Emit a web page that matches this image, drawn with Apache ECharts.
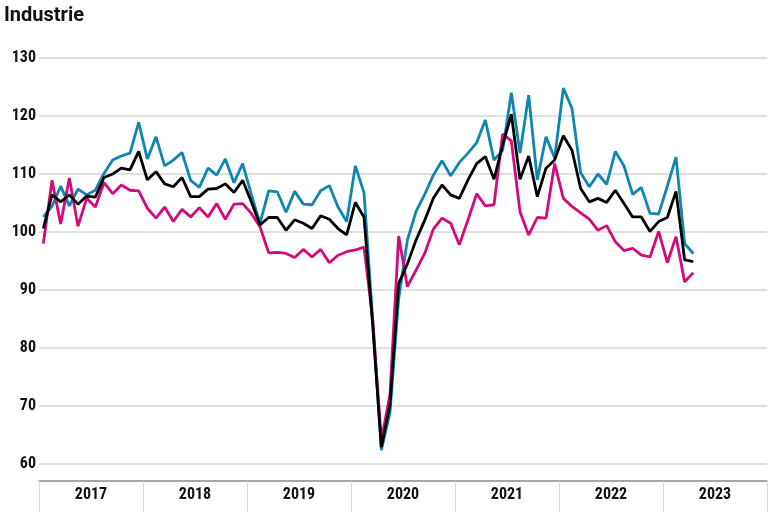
<!DOCTYPE html>
<html>
<head>
<meta charset="utf-8">
<script src="https://cdn.jsdelivr.net/npm/echarts@6/dist/echarts.min.js"></script>
<style>html,body{margin:0;padding:0;background:#fff}#c{width:768px;height:512px}</style>
</head>
<body>
<div id="c"></div>
<script>
const title = 'Industrie';
const years = ['2017','2018','2019','2020','2021','2022','2023'];
const yTicks = [60,70,80,90,100,110,120,130];
const seriesTeal = [102.6,104.4,107.9,104.5,107.4,106.4,107.2,110.1,112.4,113.1,113.6,118.9,
 112.6,116.4,111.4,112.4,113.7,108.9,107.7,111.0,109.8,112.6,108.5,111.8,
 106.5,101.5,107.1,106.9,103.4,107.0,104.8,104.7,107.1,108.0,104.3,101.8,
 111.4,106.8,85.0,62.4,68.9,88.5,98.6,103.5,106.5,109.8,112.3,109.7,
 112.0,113.6,115.4,119.3,112.4,114.1,124.0,113.6,123.6,109.0,116.4,112.7,
 124.8,121.3,110.2,107.8,110.0,108.2,113.9,111.4,106.5,107.7,103.2,103.1,
 107.9,112.9,98.0,96.3];
const seriesBlack = [100.6,106.4,105.2,106.4,104.8,106.2,106.0,109.4,110.0,111.0,110.7,113.9,
 109.0,110.4,108.3,107.8,109.4,106.1,106.1,107.4,107.5,108.3,106.8,108.9,
 105.2,101.2,102.5,102.5,100.3,102.1,101.5,100.6,102.8,102.2,100.6,99.5,
 105.1,102.6,84.0,62.9,70.2,91.1,94.5,98.6,102.0,105.8,108.1,106.4,
 105.8,109.0,111.8,113.0,109.1,115.0,120.3,109.1,113.1,106.1,111.0,112.4,
 116.6,114.1,107.5,105.2,105.8,105.1,107.2,104.9,102.6,102.6,100.1,101.8,
 102.5,107.0,95.2,94.9];
const seriesMagenta = [98.0,108.9,101.4,109.3,101.0,105.8,104.3,108.5,106.6,108.1,107.2,107.1,
 104.1,102.4,104.3,101.8,103.9,102.6,104.2,102.6,104.9,102.2,104.8,104.9,
 103.2,100.9,96.4,96.5,96.3,95.6,97.0,95.7,97.0,94.7,96.0,96.6,
 96.9,97.4,85.0,64.1,72.0,99.3,90.6,93.4,96.3,100.5,102.4,101.5,
 97.8,102.1,106.6,104.5,104.7,116.9,115.7,103.5,99.5,102.5,102.4,111.8,
 105.8,104.4,103.3,102.2,100.3,101.1,98.3,96.8,97.2,96.0,95.7,100.1,
 94.7,99.2,91.4,93.0];

const months = [];
years.forEach(y => { for (let m = 1; m <= 12; m++) months.push(y + '-' + String(m).padStart(2,'0')); });

const condensed = "'Liberation Sans Narrow','Roboto Condensed','DejaVu Sans Condensed',Roboto,sans-serif";
const chart = echarts.init(document.getElementById('c'));
chart.setOption({
  animation: false,
  backgroundColor: '#fff',
  title: { text: title, left: 4, top: 6, padding: 0, textStyle: { fontFamily: 'Roboto, sans-serif', fontWeight: 'bold', fontSize: 20, color: '#111' } },
  grid: { left: 39, right: 1, top: 58, bottom: 48 },
  xAxis: [
    { type: 'category', data: months, boundaryGap: true, show: false },
    { type: 'category', data: years, boundaryGap: true, position: 'bottom', offset: 17,
      axisLine: { show: true, lineStyle: { color: '#8c8c8c', width: 1.5 } },
      axisTick: { show: true, length: 31, lineStyle: { color: '#dcdcdc', width: 1 } },
      axisLabel: { margin: 6, fontFamily: condensed, fontWeight: 'bold', fontSize: 16, color: '#111' },
      splitLine: { show: false } }
  ],
  yAxis: {
    type: 'value', min: yTicks[0], max: yTicks[yTicks.length-1], interval: 10,
    axisLine: { show: false }, axisTick: { show: false },
    axisLabel: { margin: 3, fontFamily: condensed, fontWeight: 'bold', fontSize: 16, color: '#111' },
    splitLine: { lineStyle: { color: '#d6d6d6', width: 1.5 } }
  },
  series: [
    { type: 'line', xAxisIndex: 0, data: seriesTeal, showSymbol: false, lineStyle: { color: '#0d86b0', width: 2.8 }, z: 2 },
    { type: 'line', xAxisIndex: 0, data: seriesMagenta, showSymbol: false, lineStyle: { color: '#d40a7c', width: 2.8 }, z: 3 },
    { type: 'line', xAxisIndex: 0, data: seriesBlack, showSymbol: false, lineStyle: { color: '#000000', width: 2.8 }, z: 4 }
  ]
});
</script>
</body>
</html>
